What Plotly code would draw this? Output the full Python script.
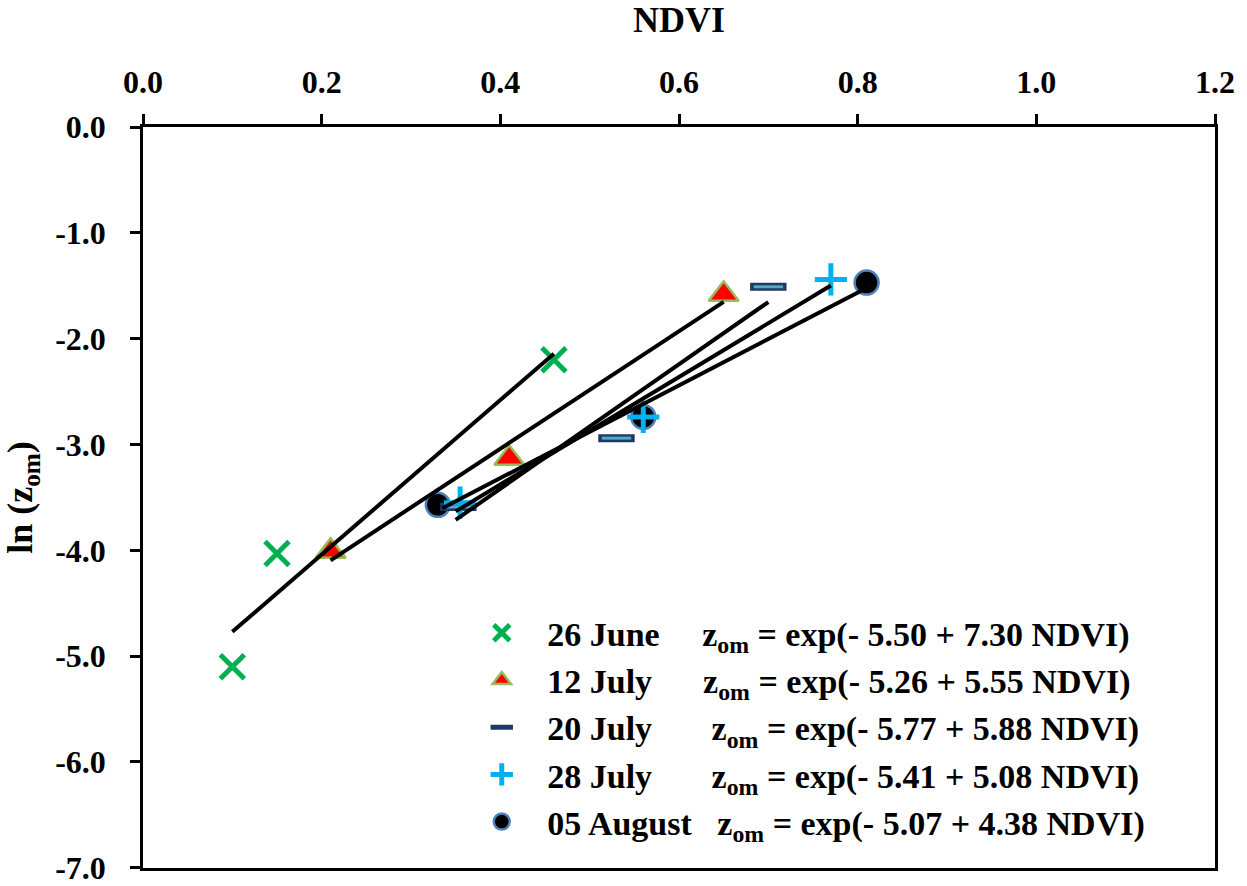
import plotly.graph_objects as go

# ---- data ----
dates = ["26 June", "12 July", "20 July", "28 July", "05 August"]

ndvi_jun26 = [0.46, 0.15, 0.10]
lnz_jun26 = [-2.20, -4.03, -5.10]

ndvi_jul12 = [0.65, 0.41, 0.21]
lnz_jul12 = [-1.58, -3.13, -4.01]

ndvi_jul20 = [0.70, 0.53, 0.353]
lnz_jul20 = [-1.51, -2.94, -3.59]

ndvi_jul28 = [0.77, 0.56, 0.355]
lnz_jul28 = [-1.44, -2.74, -3.55]

ndvi_aug05 = [0.81, 0.56, 0.33]
lnz_aug05 = [-1.47, -2.74, -3.57]

# regression equations printed in the legend: ln(zom) = a + b*NDVI
intercepts = [-5.50, -5.26, -5.77, -5.41, -5.07]
slopes = [7.30, 5.55, 5.88, 5.08, 4.38]
# NDVI span of each fitted line
line_x_start = [0.10, 0.21, 0.35, 0.35, 0.335]
line_x_end = [0.46, 0.65, 0.70, 0.77, 0.81]

x_ticks = [0.0, 0.2, 0.4, 0.6, 0.8, 1.0, 1.2]
y_ticks = [0.0, -1.0, -2.0, -3.0, -4.0, -5.0, -6.0, -7.0]

# ---- styling ----
FONT = "Liberation Serif"
NB = "\u00a0"
gaps_before = [3, 3, 3, 3, 3]
gaps_mid = [5, 6, 7, 7, 3]

def eq_text(i):
    return (NB * gaps_before[i] + dates[i] + NB * gaps_mid[i]
            + f"z<sub>om</sub> = exp(- {abs(intercepts[i]):.2f} + {slopes[i]:.2f} NDVI)")

fig = go.Figure()

# markers
fig.add_trace(go.Scatter(
    x=ndvi_aug05, y=lnz_aug05, mode="markers", name=eq_text(4), legendrank=5,
    legendgroup="g5",
    marker=dict(symbol="circle", size=24, color="black",
                line=dict(color="#4F81BD", width=2.5))))
fig.add_trace(go.Scatter(
    x=ndvi_jun26, y=lnz_jun26, mode="markers", name=eq_text(0), legendrank=1,
    legendgroup="g1",
    marker=dict(symbol="x-thin", size=24, color="#00B050",
                line=dict(color="#00B050", width=5))))
fig.add_trace(go.Scatter(
    x=ndvi_jul12, y=lnz_jul12, mode="markers", name=eq_text(1), legendrank=2,
    legendgroup="g2",
    marker=dict(symbol="triangle-up", size=26, color="#FF0000",
                line=dict(color="#9BBB59", width=2.5))))
fig.add_trace(go.Scatter(
    x=ndvi_jul20, y=lnz_jul20, mode="markers", name=eq_text(2), legendrank=3,
    legendgroup="g3",
    marker=dict(symbol="line-ew", size=26, color="#1F3864",
                line=dict(color="#1F3864", width=8))))
fig.add_trace(go.Scatter(
    x=ndvi_jul20, y=lnz_jul20, mode="markers", showlegend=False,
    legendgroup="g3",
    marker=dict(symbol="line-ew", size=21, color="#4BACC6",
                line=dict(color="#4BACC6", width=3))))
fig.add_trace(go.Scatter(
    x=ndvi_jul28, y=lnz_jul28, mode="markers", name=eq_text(3), legendrank=4,
    legendgroup="g4",
    marker=dict(symbol="cross-thin", size=23, color="#00B0F0",
                line=dict(color="#00B0F0", width=5))))

# regression lines
for i in range(len(dates)):
    xs = [line_x_start[i], line_x_end[i]]
    ys = [intercepts[i] + slopes[i] * v for v in xs]
    fig.add_trace(go.Scatter(x=xs, y=ys, mode="lines", showlegend=False,
                             line=dict(color="black", width=4)))

fig.update_layout(
    width=1247, height=886,
    margin=dict(l=143, r=32, t=127, b=18),
    paper_bgcolor="white", plot_bgcolor="white",
    font=dict(family=FONT, color="black", size=32, weight="bold"),
    showlegend=True,
    legend=dict(x=0.316, y=0.356, xanchor="left", yanchor="top",
                bgcolor="rgba(0,0,0,0)", borderwidth=0,
                font=dict(family=FONT, size=34, color="black", weight="bold"),
                tracegroupgap=0, itemwidth=30),
    xaxis=dict(
        side="top", range=[0, 1.2], tickvals=x_ticks,
        ticktext=[f"{v:.1f}" for v in x_ticks],
        ticks="outside", ticklen=10, tickwidth=2.5, tickcolor="black",
        showline=True, linecolor="black", linewidth=2.5, mirror=True,
        showgrid=False, zeroline=False, ticklabelstandoff=8,
        automargin=False,
        tickfont=dict(family=FONT, size=32, color="black", weight="bold"),
        title=dict(text="NDVI", standoff=22,
                   font=dict(family=FONT, size=36, color="black", weight="bold")),
    ),
    yaxis=dict(
        range=[-7.002, 0], tickvals=y_ticks,
        ticktext=[f"{v:.1f}" for v in y_ticks],
        ticks="outside", ticklen=10, tickwidth=2.5, tickcolor="black",
        showline=True, linecolor="black", linewidth=2.5, mirror=True,
        showgrid=False, zeroline=False, ticklabelstandoff=18,
        ticklabeloverflow="allow", automargin=False,
        tickfont=dict(family=FONT, size=32, color="black", weight="bold"),
        title=dict(text="ln (z<sub>om</sub>)", standoff=14,
                   font=dict(family=FONT, size=36, color="black", weight="bold")),
    ),
)

fig.write_html("out.html")
